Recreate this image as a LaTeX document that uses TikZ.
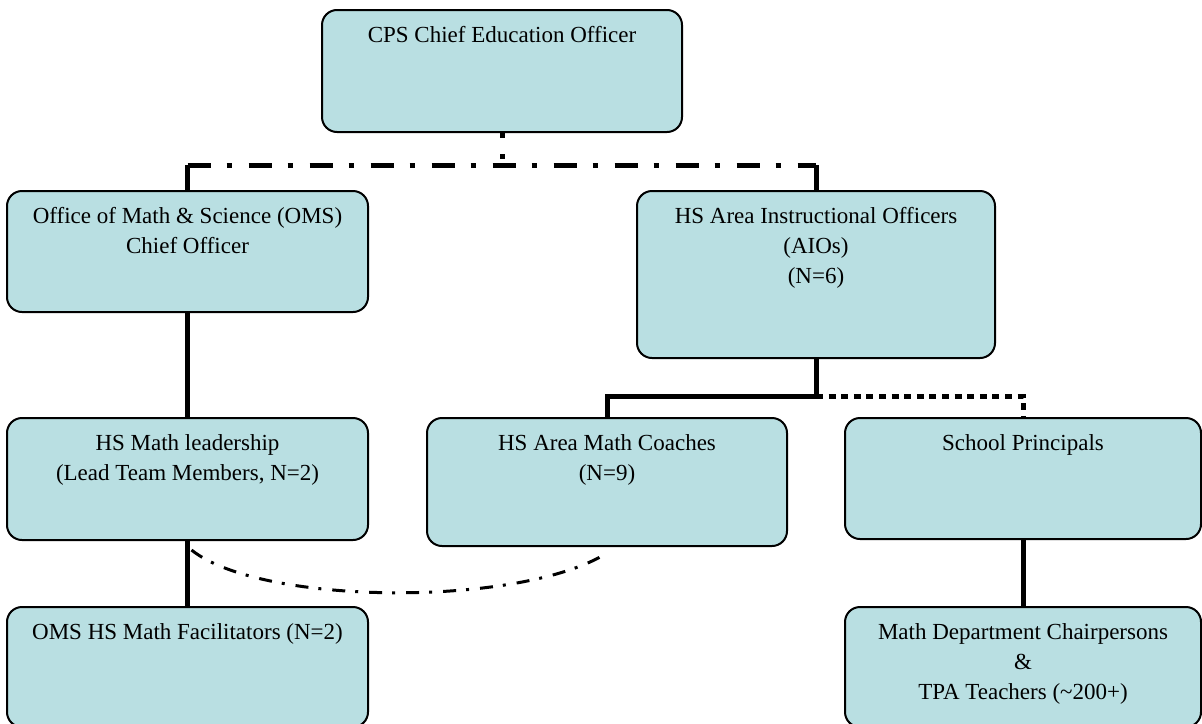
\documentclass[tikz,border=0pt]{standalone}
\usepackage{fontspec}
\setmainfont{Liberation Serif}
\usetikzlibrary{fit,calc,positioning}
\definecolor{boxfill}{RGB}{185,223,226}

\begin{document}
\begin{tikzpicture}[x=0.5pt,y=-0.5pt,
		orgbox/.style={draw=black,line width=1pt,fill=boxfill,rounded corners=7.5pt,inner sep=0pt},
		boxtext/.style={anchor=north,yshift=-8.5pt,inner sep=0pt,align=center,font=\fontsize{11.5}{15}\selectfont},
		solidlink/.style={line width=2.5pt},
		dashdotlink/.style={line width=2.5pt,dash pattern=on 11.5pt off 8pt on 2.5pt off 8.5pt},
		stublink/.style={line width=2.5pt,dash pattern=on 2.5pt off 8pt},
		dotlink/.style={line width=2.5pt,dash pattern=on 3.5pt off 2.8pt},
		curvelink/.style={line width=1.5pt,dash pattern=on 6.5pt off 5pt on 1.5pt off 5.5pt}]
		\useasboundingbox (0,0) rectangle (1202,723);
		\clip (0,0) rectangle (1202,723);
		% boxes
		\node[orgbox,fit={(322,10) (682,132)},label={[boxtext]north:CPS Chief Education Officer}] (ceo) {};
		\node[orgbox,fit={(7,191) (368,312)},label={[boxtext]north:Office of Math \& Science (OMS)\\Chief Officer}] (oms) {};
		\node[orgbox,fit={(637,191) (995,358)},label={[boxtext]north:HS Area Instructional Officers\\(AIOs)\\(N=6)}] (aio) {};
		\node[orgbox,fit={(7,418) (368,540)},label={[boxtext]north:HS Math leadership\\(Lead Team Members, N=2)}] (lead) {};
		\node[orgbox,fit={(427,418) (787,546)},label={[boxtext]north:HS Area Math Coaches\\(N=9)}] (coach) {};
		\node[orgbox,fit={(845,418) (1201,539)},label={[boxtext]north:School Principals}] (principal) {};
		\node[orgbox,fit={(7,607) (368,727)},label={[boxtext]north:OMS HS Math Facilitators (N=2)}] (fac) {};
		\node[orgbox,fit={(845,607) (1201,727)},label={[boxtext]north:Math Department Chairpersons\\\&\\TPA Teachers (\textasciitilde200+)}] (dept) {};
		% top level
		\coordinate (bus) at (502,165);
		\draw[stublink] (ceo.south) -- (ceo.south |- bus);
		\draw[solidlink] (oms.north) -- (oms.north |- bus);
		\draw[solidlink] (aio.north) -- (aio.north |- bus);
		\draw[dashdotlink] (oms.north |- bus) -- (aio.north |- bus);
		% left column
		\draw[solidlink] (oms.south) -- (lead.north);
		\draw[solidlink] (lead.south) -- (fac.north);
		% AIO branch
		\path (aio.south) ++(0,37) coordinate (split);
		\draw[solidlink] (aio.south) -- (split) -| (coach.north);
		\draw[dotlink] (split) -| (principal.north);
		\draw[solidlink] (principal.south) -- (dept.north);
		% New
		\draw[curvelink] ([shift={(4,9)}]lead.south) .. controls +(70,56) and +(-86,54) .. ([shift={(0,6)}]coach.south);
	\end{tikzpicture}
\end{document}
